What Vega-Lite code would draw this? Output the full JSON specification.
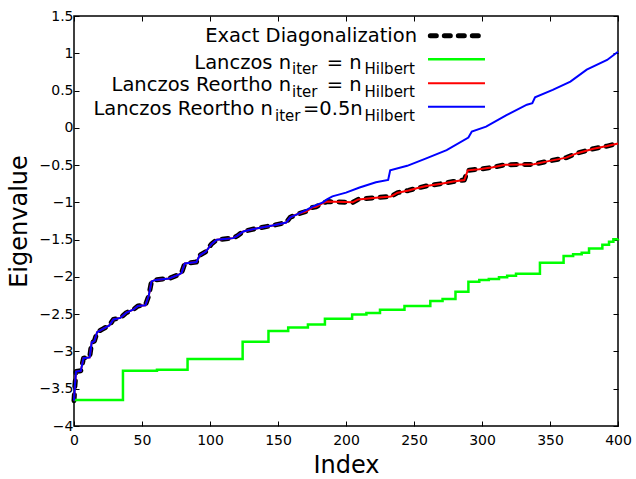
{
  "$schema": "https://vega.github.io/schema/vega-lite/v6.json",
  "width": 544,
  "height": 410,
  "autosize": "none",
  "padding": {"left": 74, "top": 16, "right": 18, "bottom": 53},
  "background": "white",
  "config": {
    "font": "DejaVu Sans",
    "view": {"stroke": "black", "strokeWidth": 1.5},
    "axis": {
      "grid": false,
      "domain": false,
      "tickColor": "black",
      "tickSize": -5,
      "tickWidth": 1,
      "labelFlush": false,
      "labelOverlap": false,
      "labelColor": "black",
      "labelFontSize": 14,
      "labelFont": "DejaVu Sans",
      "titleFont": "DejaVu Sans",
      "titleFontSize": 24,
      "titleFontWeight": "normal",
      "titleColor": "black"
    }
  },
  "datasets": {
    "exact": [
      {"index": 0, "eigenvalue": -3.66}, {"index": 0.7, "eigenvalue": -3.45}, {"index": 1.5, "eigenvalue": -3.27},
      {"index": 5, "eigenvalue": -3.26}, {"index": 7, "eigenvalue": -3.09}, {"index": 11.5, "eigenvalue": -3.08},
      {"index": 13, "eigenvalue": -2.88}, {"index": 15, "eigenvalue": -2.86}, {"index": 17, "eigenvalue": -2.74},
      {"index": 21, "eigenvalue": -2.70}, {"index": 26, "eigenvalue": -2.65}, {"index": 29, "eigenvalue": -2.57},
      {"index": 34, "eigenvalue": -2.55}, {"index": 38.5, "eigenvalue": -2.48}, {"index": 43.5, "eigenvalue": -2.44},
      {"index": 47, "eigenvalue": -2.39}, {"index": 52.5, "eigenvalue": -2.38}, {"index": 55, "eigenvalue": -2.25},
      {"index": 57, "eigenvalue": -2.06}, {"index": 60, "eigenvalue": -2.04}, {"index": 70, "eigenvalue": -2.02},
      {"index": 77, "eigenvalue": -1.97}, {"index": 79, "eigenvalue": -1.95}, {"index": 81.5, "eigenvalue": -1.82},
      {"index": 90, "eigenvalue": -1.80}, {"index": 92.5, "eigenvalue": -1.71}, {"index": 97, "eigenvalue": -1.66},
      {"index": 101, "eigenvalue": -1.56}, {"index": 105, "eigenvalue": -1.50}, {"index": 117, "eigenvalue": -1.48},
      {"index": 120, "eigenvalue": -1.45}, {"index": 124.5, "eigenvalue": -1.39}, {"index": 134, "eigenvalue": -1.35},
      {"index": 146, "eigenvalue": -1.31}, {"index": 156, "eigenvalue": -1.27}, {"index": 159, "eigenvalue": -1.20},
      {"index": 164, "eigenvalue": -1.16}, {"index": 171, "eigenvalue": -1.12}, {"index": 175, "eigenvalue": -1.07},
      {"index": 178, "eigenvalue": -1.06}, {"index": 183, "eigenvalue": -1.01}, {"index": 186, "eigenvalue": -0.99},
      {"index": 205, "eigenvalue": -1.00}, {"index": 209, "eigenvalue": -0.96}, {"index": 220, "eigenvalue": -0.94},
      {"index": 233, "eigenvalue": -0.92}, {"index": 238, "eigenvalue": -0.87}, {"index": 246, "eigenvalue": -0.84},
      {"index": 252, "eigenvalue": -0.81}, {"index": 259, "eigenvalue": -0.78}, {"index": 270, "eigenvalue": -0.75},
      {"index": 279, "eigenvalue": -0.72}, {"index": 287, "eigenvalue": -0.70}, {"index": 289.5, "eigenvalue": -0.57},
      {"index": 298, "eigenvalue": -0.555}, {"index": 308, "eigenvalue": -0.53}, {"index": 317, "eigenvalue": -0.495},
      {"index": 338, "eigenvalue": -0.49}, {"index": 348, "eigenvalue": -0.45}, {"index": 362, "eigenvalue": -0.40},
      {"index": 370, "eigenvalue": -0.34}, {"index": 382, "eigenvalue": -0.28}, {"index": 392, "eigenvalue": -0.245},
      {"index": 400, "eigenvalue": -0.21}
    ],
    "reortho_full": [
      {"index": 0, "eigenvalue": -3.66}, {"index": 0.7, "eigenvalue": -3.45}, {"index": 1.5, "eigenvalue": -3.27},
      {"index": 5, "eigenvalue": -3.26}, {"index": 7, "eigenvalue": -3.09}, {"index": 11.5, "eigenvalue": -3.08},
      {"index": 13, "eigenvalue": -2.88}, {"index": 15, "eigenvalue": -2.86}, {"index": 17, "eigenvalue": -2.74},
      {"index": 21, "eigenvalue": -2.70}, {"index": 26, "eigenvalue": -2.65}, {"index": 29, "eigenvalue": -2.57},
      {"index": 34, "eigenvalue": -2.55}, {"index": 38.5, "eigenvalue": -2.48}, {"index": 43.5, "eigenvalue": -2.44},
      {"index": 47, "eigenvalue": -2.39}, {"index": 52.5, "eigenvalue": -2.38}, {"index": 55, "eigenvalue": -2.25},
      {"index": 57, "eigenvalue": -2.06}, {"index": 60, "eigenvalue": -2.04}, {"index": 70, "eigenvalue": -2.02},
      {"index": 77, "eigenvalue": -1.97}, {"index": 79, "eigenvalue": -1.95}, {"index": 81.5, "eigenvalue": -1.82},
      {"index": 90, "eigenvalue": -1.80}, {"index": 92.5, "eigenvalue": -1.71}, {"index": 97, "eigenvalue": -1.66},
      {"index": 101, "eigenvalue": -1.56}, {"index": 105, "eigenvalue": -1.50}, {"index": 117, "eigenvalue": -1.48},
      {"index": 120, "eigenvalue": -1.45}, {"index": 124.5, "eigenvalue": -1.39}, {"index": 134, "eigenvalue": -1.35},
      {"index": 146, "eigenvalue": -1.31}, {"index": 156, "eigenvalue": -1.27}, {"index": 159, "eigenvalue": -1.20},
      {"index": 164, "eigenvalue": -1.16}, {"index": 171, "eigenvalue": -1.12}, {"index": 175, "eigenvalue": -1.07},
      {"index": 178, "eigenvalue": -1.06}, {"index": 183, "eigenvalue": -1.01}, {"index": 186, "eigenvalue": -0.99},
      {"index": 205, "eigenvalue": -1.00}, {"index": 209, "eigenvalue": -0.96}, {"index": 220, "eigenvalue": -0.94},
      {"index": 233, "eigenvalue": -0.92}, {"index": 238, "eigenvalue": -0.87}, {"index": 246, "eigenvalue": -0.84},
      {"index": 252, "eigenvalue": -0.81}, {"index": 259, "eigenvalue": -0.78}, {"index": 270, "eigenvalue": -0.75},
      {"index": 279, "eigenvalue": -0.72}, {"index": 287, "eigenvalue": -0.70}, {"index": 289.5, "eigenvalue": -0.57},
      {"index": 298, "eigenvalue": -0.555}, {"index": 308, "eigenvalue": -0.53}, {"index": 317, "eigenvalue": -0.495},
      {"index": 338, "eigenvalue": -0.49}, {"index": 348, "eigenvalue": -0.45}, {"index": 362, "eigenvalue": -0.40},
      {"index": 370, "eigenvalue": -0.34}, {"index": 382, "eigenvalue": -0.28}, {"index": 392, "eigenvalue": -0.245},
      {"index": 400, "eigenvalue": -0.21}
    ],
    "reortho_half": [
      {"index": 0, "eigenvalue": -3.66}, {"index": 0.7, "eigenvalue": -3.45}, {"index": 1.5, "eigenvalue": -3.27},
      {"index": 5, "eigenvalue": -3.26}, {"index": 7, "eigenvalue": -3.09}, {"index": 11.5, "eigenvalue": -3.08},
      {"index": 13, "eigenvalue": -2.88}, {"index": 15, "eigenvalue": -2.86}, {"index": 17, "eigenvalue": -2.74},
      {"index": 21, "eigenvalue": -2.70}, {"index": 26, "eigenvalue": -2.65}, {"index": 29, "eigenvalue": -2.57},
      {"index": 34, "eigenvalue": -2.55}, {"index": 38.5, "eigenvalue": -2.48}, {"index": 43.5, "eigenvalue": -2.44},
      {"index": 47, "eigenvalue": -2.39}, {"index": 52.5, "eigenvalue": -2.38}, {"index": 55, "eigenvalue": -2.25},
      {"index": 57, "eigenvalue": -2.06}, {"index": 60, "eigenvalue": -2.04}, {"index": 70, "eigenvalue": -2.02},
      {"index": 77, "eigenvalue": -1.97}, {"index": 79, "eigenvalue": -1.95}, {"index": 81.5, "eigenvalue": -1.82},
      {"index": 90, "eigenvalue": -1.80}, {"index": 92.5, "eigenvalue": -1.71}, {"index": 97, "eigenvalue": -1.66},
      {"index": 101, "eigenvalue": -1.56}, {"index": 105, "eigenvalue": -1.50}, {"index": 117, "eigenvalue": -1.48},
      {"index": 120, "eigenvalue": -1.45}, {"index": 124.5, "eigenvalue": -1.39}, {"index": 134, "eigenvalue": -1.35},
      {"index": 146, "eigenvalue": -1.31}, {"index": 156, "eigenvalue": -1.27}, {"index": 159, "eigenvalue": -1.20},
      {"index": 164, "eigenvalue": -1.16}, {"index": 171, "eigenvalue": -1.10}, {"index": 175, "eigenvalue": -1.06},
      {"index": 183, "eigenvalue": -1.00}, {"index": 186, "eigenvalue": -0.96}, {"index": 190, "eigenvalue": -0.92},
      {"index": 200, "eigenvalue": -0.87}, {"index": 210, "eigenvalue": -0.80}, {"index": 222, "eigenvalue": -0.73},
      {"index": 231, "eigenvalue": -0.70}, {"index": 232.5, "eigenvalue": -0.57}, {"index": 245, "eigenvalue": -0.51},
      {"index": 259, "eigenvalue": -0.41}, {"index": 274, "eigenvalue": -0.30}, {"index": 290, "eigenvalue": -0.13},
      {"index": 292.5, "eigenvalue": -0.05}, {"index": 303, "eigenvalue": 0.015}, {"index": 318, "eigenvalue": 0.17},
      {"index": 333, "eigenvalue": 0.31}, {"index": 337, "eigenvalue": 0.33}, {"index": 339, "eigenvalue": 0.41},
      {"index": 352, "eigenvalue": 0.51}, {"index": 365, "eigenvalue": 0.62}, {"index": 377, "eigenvalue": 0.78},
      {"index": 392, "eigenvalue": 0.91}, {"index": 400, "eigenvalue": 1.02}
    ],
    "lanczos": [
      {"index": 0, "eigenvalue": -3.65}, {"index": 36, "eigenvalue": -3.26}, {"index": 61, "eigenvalue": -3.245},
      {"index": 83.5, "eigenvalue": -3.10}, {"index": 124, "eigenvalue": -2.87}, {"index": 143, "eigenvalue": -2.726},
      {"index": 157.5, "eigenvalue": -2.68}, {"index": 172, "eigenvalue": -2.64}, {"index": 184.5, "eigenvalue": -2.56},
      {"index": 204.5, "eigenvalue": -2.505}, {"index": 215, "eigenvalue": -2.484}, {"index": 225, "eigenvalue": -2.44},
      {"index": 243, "eigenvalue": -2.39}, {"index": 262, "eigenvalue": -2.322}, {"index": 271, "eigenvalue": -2.296},
      {"index": 280.5, "eigenvalue": -2.20}, {"index": 290, "eigenvalue": -2.066}, {"index": 298, "eigenvalue": -2.04},
      {"index": 305, "eigenvalue": -2.028}, {"index": 312.5, "eigenvalue": -2.006}, {"index": 318.5, "eigenvalue": -1.983},
      {"index": 325, "eigenvalue": -1.957}, {"index": 342.6, "eigenvalue": -1.81}, {"index": 360, "eigenvalue": -1.72},
      {"index": 367, "eigenvalue": -1.697}, {"index": 373.3, "eigenvalue": -1.675}, {"index": 378.7, "eigenvalue": -1.62},
      {"index": 388.5, "eigenvalue": -1.568}, {"index": 393.4, "eigenvalue": -1.528}, {"index": 396.6, "eigenvalue": -1.496},
      {"index": 400, "eigenvalue": -1.49}
    ]
  },
  "layer": [
    {
      "data": {"name": "exact"},
      "mark": {"type": "line", "color": "black", "strokeWidth": 5, "strokeDash": [6, 8], "strokeCap": "round", "strokeJoin": "round"},
      "encoding": {
        "x": {"field": "index", "type": "quantitative",
              "scale": {"domain": [0, 400], "nice": false, "zero": false},
              "axis": {"values": [0, 50, 100, 150, 200, 250, 300, 350, 400], "format": "d", "title": "Index", "labelPadding": 12, "titlePadding": 6}},
        "y": {"field": "eigenvalue", "type": "quantitative",
              "scale": {"domain": [-4, 1.5], "nice": false, "zero": false},
              "axis": {"values": [-4, -3.5, -3, -2.5, -2, -1.5, -1, -0.5, 0, 0.5, 1, 1.5], "format": "~f", "title": "Eigenvalue", "labelPadding": 6, "titlePadding": 8}}
      }
    },
    {
      "data": {"name": "lanczos"},
      "mark": {"type": "line", "color": "#00ff00", "strokeWidth": 2.5, "interpolate": "step-after"},
      "encoding": {
        "x": {"field": "index", "type": "quantitative",
              "axis": {"orient": "top", "values": [0, 50, 100, 150, 200, 250, 300, 350, 400], "labels": false, "title": null}},
        "y": {"field": "eigenvalue", "type": "quantitative",
              "axis": {"orient": "right", "values": [-4, -3.5, -3, -2.5, -2, -1.5, -1, -0.5, 0, 0.5, 1, 1.5], "labels": false, "title": null}}
      }
    },
    {
      "data": {"name": "reortho_full"},
      "mark": {"type": "line", "color": "#ff0000", "strokeWidth": 2},
      "encoding": {
        "x": {"field": "index", "type": "quantitative", "axis": null},
        "y": {"field": "eigenvalue", "type": "quantitative", "axis": null}
      }
    },
    {
      "data": {"name": "reortho_half"},
      "mark": {"type": "line", "color": "#0000ff", "strokeWidth": 2},
      "encoding": {
        "x": {"field": "index", "type": "quantitative", "axis": null},
        "y": {"field": "eigenvalue", "type": "quantitative", "axis": null}
      }
    },
    {
      "data": {"values": [{}]},
      "mark": {"type": "rule", "color": "black", "strokeWidth": 5, "strokeDash": [6, 8], "strokeCap": "round"},
      "encoding": {"x": {"datum": 262, "type": "quantitative", "axis": null}, "x2": {"datum": 298}, "y": {"datum": 1.236, "type": "quantitative", "axis": null}}
    },
    {
      "data": {"values": [{}]},
      "mark": {"type": "rule", "color": "#00ff00", "strokeWidth": 2.5},
      "encoding": {"x": {"datum": 260.3, "type": "quantitative", "axis": null}, "x2": {"datum": 302.2}, "y": {"datum": 0.919, "type": "quantitative", "axis": null}}
    },
    {
      "data": {"values": [{}]},
      "mark": {"type": "rule", "color": "#ff0000", "strokeWidth": 2},
      "encoding": {"x": {"datum": 260.3, "type": "quantitative", "axis": null}, "x2": {"datum": 302.2}, "y": {"datum": 0.597, "type": "quantitative", "axis": null}}
    },
    {
      "data": {"values": [{}]},
      "mark": {"type": "rule", "color": "#0000ff", "strokeWidth": 2},
      "encoding": {"x": {"datum": 260.3, "type": "quantitative", "axis": null}, "x2": {"datum": 302.2}, "y": {"datum": 0.283, "type": "quantitative", "axis": null}}
    },
    {
      "data": {"values": [{}]},
      "mark": {"type": "text", "align": "right", "baseline": "alphabetic", "fontSize": 19.5, "color": "black"},
      "encoding": {"x": {"datum": 252.2, "type": "quantitative", "axis": null}, "y": {"datum": 1.147, "type": "quantitative", "axis": null}, "text": {"value": "Exact Diagonalization"}}
    },
    {
      "data": {"values": [{}]},
      "mark": {"type": "text", "align": "right", "baseline": "alphabetic", "fontSize": 19.5, "color": "black"},
      "encoding": {"x": {"datum": 159.6, "type": "quantitative", "axis": null}, "y": {"datum": 0.789, "type": "quantitative", "axis": null}, "text": {"value": "Lanczos n"}}
    },
    {
      "data": {"values": [{}]},
      "mark": {"type": "text", "align": "left", "baseline": "alphabetic", "fontSize": 15, "color": "black"},
      "encoding": {"x": {"datum": 160.3, "type": "quantitative", "axis": null}, "y": {"datum": 0.72, "type": "quantitative", "axis": null}, "text": {"value": "iter"}}
    },
    {
      "data": {"values": [{}]},
      "mark": {"type": "text", "align": "left", "baseline": "alphabetic", "fontSize": 19.5, "color": "black"},
      "encoding": {"x": {"datum": 185.8, "type": "quantitative", "axis": null}, "y": {"datum": 0.789, "type": "quantitative", "axis": null}, "text": {"value": "= n"}}
    },
    {
      "data": {"values": [{}]},
      "mark": {"type": "text", "align": "left", "baseline": "alphabetic", "fontSize": 15, "color": "black"},
      "encoding": {"x": {"datum": 213.6, "type": "quantitative", "axis": null}, "y": {"datum": 0.72, "type": "quantitative", "axis": null}, "text": {"value": "Hilbert"}}
    },
    {
      "data": {"values": [{}]},
      "mark": {"type": "text", "align": "right", "baseline": "alphabetic", "fontSize": 19.5, "color": "black"},
      "encoding": {"x": {"datum": 159.6, "type": "quantitative", "axis": null}, "y": {"datum": 0.494, "type": "quantitative", "axis": null}, "text": {"value": "Lanczos Reortho n"}}
    },
    {
      "data": {"values": [{}]},
      "mark": {"type": "text", "align": "left", "baseline": "alphabetic", "fontSize": 15, "color": "black"},
      "encoding": {"x": {"datum": 160.3, "type": "quantitative", "axis": null}, "y": {"datum": 0.415, "type": "quantitative", "axis": null}, "text": {"value": "iter"}}
    },
    {
      "data": {"values": [{}]},
      "mark": {"type": "text", "align": "left", "baseline": "alphabetic", "fontSize": 19.5, "color": "black"},
      "encoding": {"x": {"datum": 185.8, "type": "quantitative", "axis": null}, "y": {"datum": 0.494, "type": "quantitative", "axis": null}, "text": {"value": "= n"}}
    },
    {
      "data": {"values": [{}]},
      "mark": {"type": "text", "align": "left", "baseline": "alphabetic", "fontSize": 15, "color": "black"},
      "encoding": {"x": {"datum": 213.6, "type": "quantitative", "axis": null}, "y": {"datum": 0.415, "type": "quantitative", "axis": null}, "text": {"value": "Hilbert"}}
    },
    {
      "data": {"values": [{}]},
      "mark": {"type": "text", "align": "right", "baseline": "alphabetic", "fontSize": 19.5, "color": "black"},
      "encoding": {"x": {"datum": 146.3, "type": "quantitative", "axis": null}, "y": {"datum": 0.172, "type": "quantitative", "axis": null}, "text": {"value": "Lanczos Reortho n"}}
    },
    {
      "data": {"values": [{}]},
      "mark": {"type": "text", "align": "left", "baseline": "alphabetic", "fontSize": 15, "color": "black"},
      "encoding": {"x": {"datum": 147.8, "type": "quantitative", "axis": null}, "y": {"datum": 0.095, "type": "quantitative", "axis": null}, "text": {"value": "iter"}}
    },
    {
      "data": {"values": [{}]},
      "mark": {"type": "text", "align": "left", "baseline": "alphabetic", "fontSize": 19.5, "color": "black"},
      "encoding": {"x": {"datum": 168.4, "type": "quantitative", "axis": null}, "y": {"datum": 0.172, "type": "quantitative", "axis": null}, "text": {"value": "=0.5n"}}
    },
    {
      "data": {"values": [{}]},
      "mark": {"type": "text", "align": "left", "baseline": "alphabetic", "fontSize": 15, "color": "black"},
      "encoding": {"x": {"datum": 213.6, "type": "quantitative", "axis": null}, "y": {"datum": 0.095, "type": "quantitative", "axis": null}, "text": {"value": "Hilbert"}}
    }
  ],
  "resolve": {"axis": {"x": "independent", "y": "independent"}}
}
